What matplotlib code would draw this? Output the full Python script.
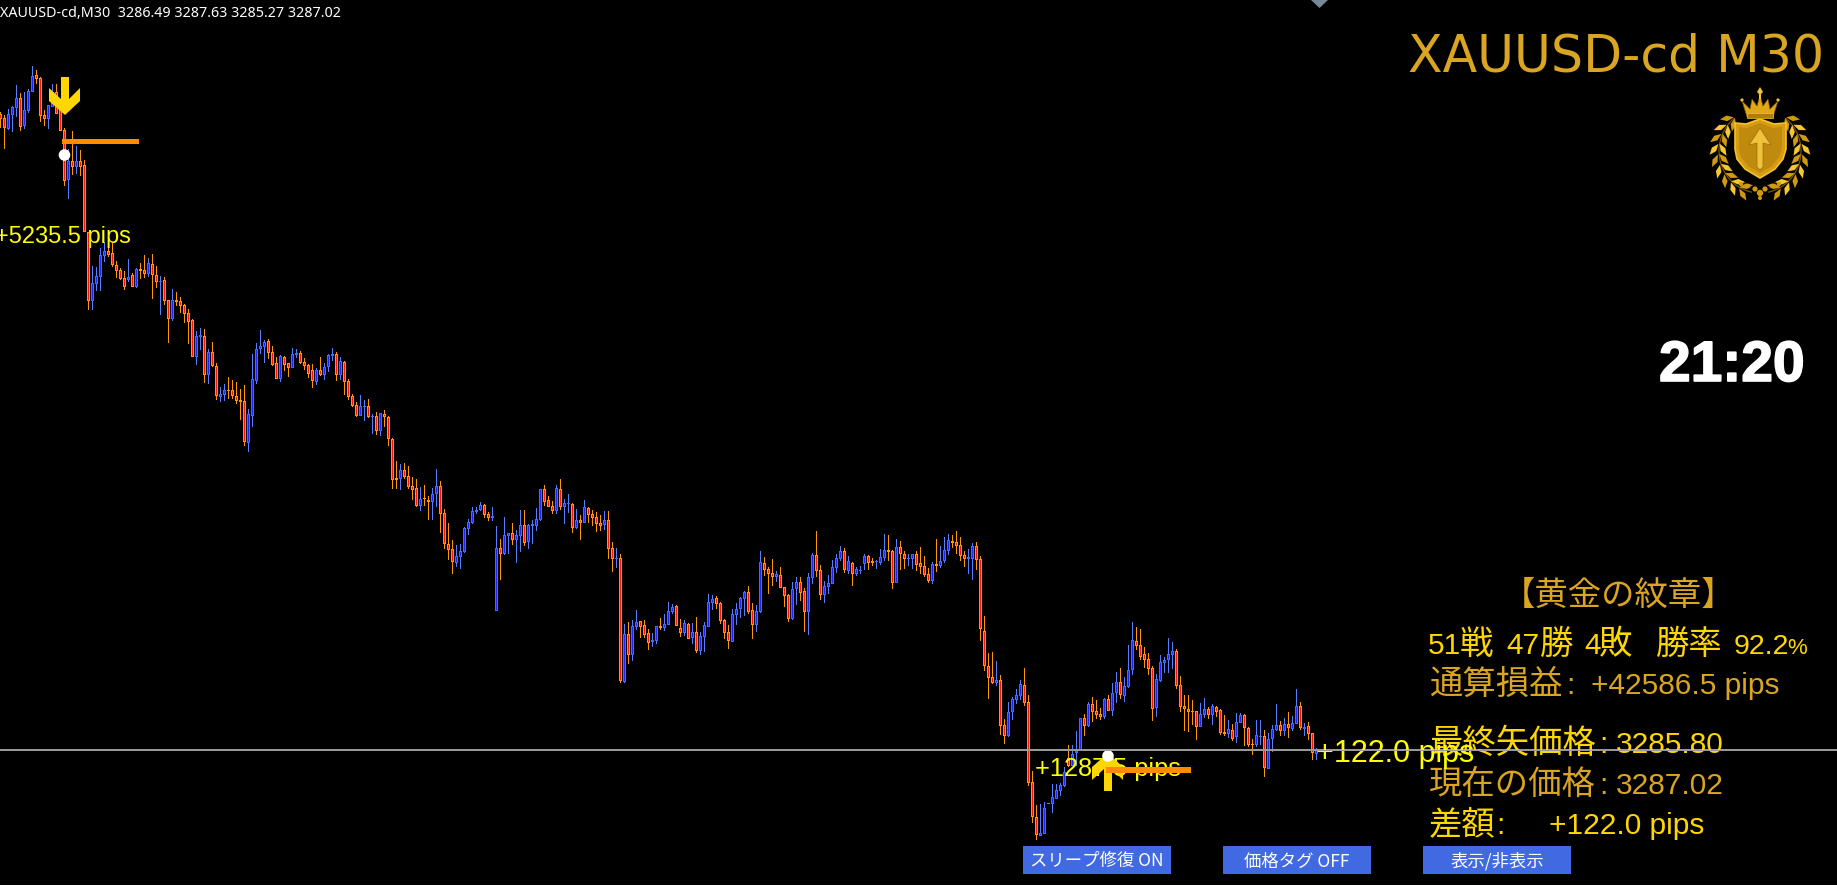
import math
import matplotlib
matplotlib.use("Agg")
import matplotlib.pyplot as plt
import matplotlib.patheffects as pe
from matplotlib.patches import Polygon, Circle, Rectangle

REF_PRICE = 3352.58
TICK = 0.0873
LAST_PRICE = 3287.02

# d = falling, u = rising, g = flat bar; one string per ten candles
candle_dir = "".join([
    "dduuuduuud", "dduudddudu", "ddduuuuddd", "ddududdudd", "uddudddddu",
    "ududduuddd", "dduuuuuddd", "udduuddddu", "duuududddd", "uudududddd",
    "uddddudduu", "dddduuuuuu", "udduuduudu", "uduuuudddu", "duudududdd",
    "duddududuu", "ddduuduuud", "dududuuuud", "ddduuuuddu", "uddduddduu",
    "dduudduuuu", "ududuuuddu", "uuddudduud", "ddduduuudd", "dduudddddu",
    "dduuuudddd", "uuguuuuduu", "ududdduduu", "duuudddddu", "uuuudddddd",
    "uududddudu", "uddduuduuu", "duduududdu",
])

body_top = [
    115,119,115,108,99,99,111,92,77,76,
    79,116,106,93,93,103,131,162,162,162,
    162,166,233,284,277,256,252,252,254,266,
    271,279,278,276,270,270,271,264,265,276,
    282,281,301,301,301,302,306,314,321,337,
    336,337,353,353,367,395,391,391,391,397,
    401,402,415,380,350,347,343,342,353,364,
    357,358,364,355,354,354,363,366,371,371,
    371,368,356,355,355,362,363,382,397,406,
    407,407,407,417,417,414,415,418,440,479,
    471,471,477,487,489,500,499,501,495,487,
    487,514,545,550,557,552,529,523,512,511,
    506,506,515,517,549,549,536,534,534,536,
    526,526,526,525,520,490,490,501,507,489,
    490,504,504,505,521,521,508,509,515,518,
    524,521,521,549,559,559,635,635,627,623,
    622,626,634,641,627,627,625,612,608,607,
    629,624,625,633,633,637,626,603,600,599,
    604,621,633,615,610,599,593,593,611,612,
    563,564,570,574,575,576,588,596,590,583,
    583,592,578,556,556,571,587,584,568,559,
    552,552,562,564,570,571,557,557,562,562,
    558,551,551,552,548,548,555,559,555,555,
    564,567,575,565,565,562,551,541,542,543,
    546,556,558,547,547,560,632,667,678,681,
    681,726,713,700,696,685,686,703,783,818,
    834,809,804,798,791,786,773,759,755,752,
    719,719,705,705,712,715,700,700,694,683,
    683,687,671,641,642,646,655,660,669,680,
    663,661,655,652,652,686,707,710,712,712,
    715,710,710,707,708,711,733,730,731,723,
    716,716,729,745,736,737,737,740,730,726,
    726,725,725,724,707,707,728,727,734,751,
]
body_bottom = [
    120,129,130,116,109,128,127,112,93,80,
    117,120,120,108,115,132,182,181,168,168,
    168,233,302,302,285,278,257,256,266,272,
    280,288,281,288,288,272,275,275,276,283,
    283,302,320,320,303,307,315,323,358,358,
    338,376,376,367,397,398,396,392,397,402,
    403,443,444,417,382,350,348,354,366,380,
    380,366,369,369,356,364,367,375,382,383,
    376,376,368,357,376,376,383,398,407,417,
    417,408,418,418,432,432,418,440,481,481,
    480,478,488,491,507,507,500,503,503,495,
    515,545,551,563,564,558,553,530,524,513,
    511,516,519,519,612,555,555,537,541,541,
    537,544,543,527,527,521,503,508,512,512,
    508,508,505,529,529,524,524,516,519,525,
    527,526,550,560,560,682,683,656,656,628,
    628,636,644,643,642,629,629,626,613,627,
    634,634,640,639,652,652,638,628,604,605,
    622,634,642,643,616,610,600,613,626,626,
    613,571,575,578,578,589,597,620,620,590,
    594,613,613,579,572,596,596,588,585,569,
    560,571,572,575,575,572,565,564,564,563,
    564,559,553,584,584,555,560,560,560,566,
    568,576,582,582,567,567,562,552,544,547,
    557,560,560,560,561,630,667,679,684,684,
    727,737,737,713,701,697,704,784,818,836,
    837,835,805,805,800,792,787,767,767,754,
    752,727,727,713,716,718,718,712,712,694,
    696,697,688,671,647,658,661,670,710,709,
    682,664,661,656,687,708,710,713,713,728,
    728,716,716,716,713,734,735,735,740,738,
    724,729,746,746,746,738,769,770,740,731,
    732,732,729,730,725,729,730,735,754,755,
]
wick_high = [
    113,116,110,107,86,94,93,90,67,71,
    78,111,106,85,85,100,129,150,132,147,
    151,161,233,267,268,249,243,238,244,262,
    269,272,260,274,269,264,256,259,255,267,
    277,278,301,290,293,298,305,310,320,332,
    329,330,350,343,364,388,385,378,381,383,
    390,386,410,355,344,331,341,340,347,358,
    356,357,364,349,350,352,359,365,365,369,
    358,364,355,349,353,358,362,380,395,403,
    396,401,400,415,413,414,411,417,439,462,
    465,464,467,478,480,488,486,497,489,470,
    482,510,524,541,546,545,528,520,508,508,
    503,505,513,508,527,540,518,534,524,531,
    511,511,525,521,509,490,486,497,502,486,
    480,500,495,504,510,516,501,508,511,513,
    516,512,512,543,549,555,625,623,621,611,
    622,621,630,634,627,619,615,603,605,606,
    620,621,624,624,618,633,623,595,596,597,
    603,620,626,610,604,598,592,587,604,606,
    552,558,568,560,572,568,588,595,583,578,
    578,589,574,554,532,566,582,576,561,555,
    547,549,557,563,568,567,555,556,559,561,
    550,535,536,551,540,542,552,555,555,552,
    548,557,569,563,540,547,538,535,536,532,
    538,552,550,544,543,557,617,654,653,662,
    676,720,703,698,690,681,669,696,772,806,
    805,803,804,785,785,784,768,746,746,732,
    719,715,703,698,701,709,699,696,684,673,
    669,678,646,623,628,630,648,654,667,675,
    656,658,639,643,650,677,696,696,701,712,
    704,699,708,705,707,710,716,721,725,714,
    714,715,728,740,721,721,731,734,726,705,
    722,719,713,717,690,703,724,723,734,749,
]
wick_low = [
    129,150,131,133,118,132,130,114,93,85,
    123,127,130,108,115,132,187,200,176,175,
    177,233,311,311,292,292,263,258,268,279,
    281,291,283,288,289,280,279,278,300,289,
    316,306,344,322,307,314,324,345,358,366,
    351,384,385,368,401,403,402,400,400,405,
    421,447,453,428,385,355,364,360,367,380,
    383,372,378,369,359,365,371,379,389,386,
    377,381,373,362,382,381,396,401,408,418,
    417,422,419,435,436,437,428,447,490,490,
    491,480,490,501,508,512,507,521,521,508,
    534,550,561,575,568,570,554,536,525,515,
    512,519,522,522,612,581,556,555,546,564,
    553,547,550,545,532,522,507,508,515,515,
    511,525,514,534,530,541,524,524,527,533,
    532,531,560,573,569,684,684,665,662,631,
    639,639,651,648,645,631,632,626,615,627,
    638,637,640,645,654,656,653,628,611,610,
    625,640,650,643,626,619,617,615,640,633,
    614,577,595,587,583,589,608,623,621,606,
    602,633,636,585,578,601,604,595,585,574,
    562,574,575,587,577,575,571,571,567,570,
    566,562,562,590,584,571,570,567,570,572,
    575,578,584,585,573,569,564,556,549,555,
    562,568,575,581,571,642,672,700,685,687,
    736,745,738,721,705,701,707,787,824,841,
    837,835,805,814,800,797,788,768,767,767,
    752,737,728,723,720,721,720,712,717,704,
    700,703,689,676,651,661,669,676,722,718,
    683,674,674,670,690,713,732,733,726,741,
    728,719,720,726,718,736,737,739,742,744,
    724,747,748,756,748,746,778,770,753,732,
    737,737,739,732,725,731,737,741,761,761,
]

pips_labels = ["+5235.5 pips", "+1287.5 pips", "+122.0 pips"]
header_text = "XAUUSD-cd,M30  3286.49 3287.63 3285.27 3287.02"

n = len(body_top)


def price(t):
    return REF_PRICE - t * TICK


BG = "#000000"
GOLD = "#DAA520"
YEL = "#FFD700"
CJK = ["Noto Sans CJK JP", "DejaVu Sans"]
LAT = "Liberation Sans"

W, H = 1837, 887
fig = plt.figure(figsize=(W / 100, H / 100), dpi=100, facecolor=BG)
ax = fig.add_axes([0, 0, 1, 1], facecolor=BG)
ax.set_xlim(-0.125, W / 4 - 0.125)
ax.set_ylim(price(H), price(0))
ax.axis("off")


def block(k, half, t0, t1, color, z):
    # a crisp rectangle between two tick levels, centred on candle k
    ax.add_patch(Rectangle((k - half, price(t1)), 2 * half, price(t0) - price(t1), facecolor=color,
                           edgecolor="none", antialiased=False, zorder=z))


for k in range(n):
    d = candle_dir[k]
    top, bot, hi, lo = body_top[k], body_bottom[k], wick_high[k], wick_low[k]
    if d == "g":
        block(k, 0.375, top, top + 1, "#00E000", 3)
        continue
    wick, edge, fill = ("#FF9900", "#FF9900", "#FF1400") if d == "d" else ("#5580FF", "#3F6BFF", "#1A24FF")
    block(k, 0.125, hi, max(lo, hi + 1), wick, 2)
    block(k, 0.375, top, max(bot, top + 1), edge, 3)
    if bot - top > 2:
        block(k, 0.125, top + 1, bot - 1, fill, 4)

# overlay in screen pixels for annotations
ov = fig.add_axes([0, 0, 1, 1], facecolor="none")
ov.set_xlim(0, W)
ov.set_ylim(H, 0)
ov.axis("off")

# frame strips and top marker
ov.add_patch(Rectangle((0, 0), W, 1, fc="white", ec="none", zorder=1))
ov.add_patch(Rectangle((0, H - 1), W, 1, fc="white", ec="none", zorder=1))
ov.add_patch(Polygon([(1311, 1), (1328, 1), (1319.5, 9)], fc="#778899", ec="none", zorder=1))


def arrow_pts(x, y0, direction):
    # y0 = tail end; direction +1 points downward
    s = direction
    return [(x - 4, y0), (x + 4, y0), (x + 4, y0 + 22 * s), (x + 15, y0 + 11 * s), (x + 15, y0 + 24 * s),
            (x, y0 + 38 * s), (x - 16, y0 + 24 * s), (x - 16, y0 + 11 * s), (x - 4, y0 + 22 * s)]


ov.add_patch(Polygon(arrow_pts(65, 78, 1), fc=YEL, ec="none", zorder=6))
ov.add_patch(Rectangle((62, 139.5), 77, 5.5, fc="#FF8C00", ec="none", zorder=7))
ov.add_patch(Circle((64.5, 156), 5.8, fc="white", ec="none", zorder=8))

# pips labels on chart
ov.text(-5, 243, pips_labels[0], color="#FFFF00", fontsize=17, family=LAT, va="baseline", zorder=5)
ov.text(1035, 776, pips_labels[1], color="#FFFF00", fontsize=18.3, family=LAT, va="baseline", zorder=5)
ov.add_patch(Polygon(arrow_pts(1108, 792, -1), fc=YEL, ec="none", zorder=6))
ov.add_patch(Rectangle((1106, 768.5), 85, 5.5, fc="#FF8C00", ec="none", zorder=7))
ov.add_patch(Circle((1108, 757), 5.8, fc="white", ec="none", zorder=8))
ov.text(1316, 762, pips_labels[2], color="#FFFF00", fontsize=22, family=LAT, va="baseline", zorder=5)

# header and title
ov.text(0, 17, header_text, color="white", fontsize=10.3, family="Noto Sans", va="baseline", zorder=5)
ov.text(1824, 72, "XAUUSD-cd M30", color=GOLD, fontsize=36.4, family="DejaVu Sans", ha="right",
        va="baseline", zorder=5)
ov.text(1805, 382, "21:20", color="white", fontsize=41, family=LAT, fontweight="bold", ha="right",
        va="baseline", zorder=5, path_effects=[pe.withStroke(linewidth=1.2, foreground="white")])


# info panel
def put(pieces, y, color):
    for txt, x, size in pieces:
        if size is None:
            ov.text(x, y, txt, color=color, fontsize=24, family=CJK, va="baseline", zorder=4)
        else:
            ov.text(x, y, txt, color=color, fontsize=size, family=LAT, va="baseline", zorder=4)


ov.text(1619, 605, "【黄金の紋章】", color=GOLD, fontsize=24, family=CJK, ha="center", va="baseline", zorder=4)
put([("51", 1428, 21.5), ("戦", 1460, None), ("47", 1506, 21.5), ("勝", 1540, None), ("4", 1584, 21.5),
     ("敗", 1599, None), ("勝率", 1656, None), ("92.2", 1734, 20.5), ("%", 1787, 16)], 654, YEL)
put([("通算損益", 1429, None), (":", 1566, 21.5), ("+42586.5 pips", 1591, 21.5)], 694, GOLD)
put([("最終矢価格", 1429, None), (":", 1599, 21.5), ("3285.80", 1616, 21.5)], 753, YEL)
put([("現在の価格", 1429, None), (":", 1599, 21.5), ("3287.02", 1616, 21.5)], 794, GOLD)
put([("差額", 1429, None), (":", 1496, 21.5), ("+122.0 pips", 1549, 21.5)], 834, YEL)

# current price line
ax.add_patch(Rectangle((-1, price((REF_PRICE - LAST_PRICE) / TICK + 0.5)), 470, TICK, fc="#999999",
                       ec="none", antialiased=False, zorder=5))
ov.add_patch(Rectangle((0, 750.5), W, 1, fc="#999999", ec="none", antialiased=False, zorder=9))

# buttons
for (x0, label) in [(1023, "スリープ修復 ON"), (1223, "価格タグ OFF"), (1423, "表示/非表示")]:
    ov.add_patch(Rectangle((x0, 847), 148, 28, fc="#4169E1", ec="none", zorder=4))
    ov.text(x0 + 74, 866.5, label, color="white", fontsize=12.5, family=CJK, ha="center", va="baseline", zorder=5)

# emblem
CX, CY = 1760, 152
DARK, MID, LIGHT = "#7A5206", "#D09A10", "#F5C832"
for side in (-1, 1):
    ts = [math.radians(a) for a in range(12, 142, 4)]
    ov.plot([CX + side * 41 * math.sin(t) for t in ts], [CY + 42 * math.cos(t) for t in ts],
            color=DARK, lw=0.9, zorder=4)
    for i, deg in enumerate(range(22, 148, 14)):
        t = math.radians(deg)
        for off, tilt in ((5, 0.65), (-4, -0.55)):
            cx = CX + side * (41 + off) * math.sin(t)
            cy = CY + (42 + off) * math.cos(t)
            a = t + tilt
            dx, dy = side * math.cos(a), -math.sin(a)
            nx, ny = -dy, dx
            L, Wd = 7.0, 2.8
            ov.add_patch(Polygon([(cx - dx * L, cy - dy * L), (cx + nx * Wd, cy + ny * Wd),
                                  (cx + dx * L, cy + dy * L), (cx - nx * Wd, cy - ny * Wd)],
                                 fc=LIGHT if i % 2 else MID, ec="none", zorder=4))
# bottom ornament
for dx, dy, r in [(0, 194, 3.2), (-5, 190, 2.6), (5, 190, 2.6), (0, 199, 2.0), (-12, 187, 2.4), (12, 187, 2.4),
                  (-19, 185, 2.2), (19, 185, 2.2)]:
    ov.add_patch(Circle((CX + dx, dy), r, fc=MID, ec="none", zorder=5))
# shield
shield = [(1735, 124), (1746, 125), (1760, 120), (1774, 125), (1786, 124), (1786, 150), (1783, 160),
          (1775, 170), (1760, 179), (1745, 170), (1737, 160), (1735, 150)]
ov.add_patch(Polygon(shield, fc="#D79C12", ec="#F2C230", lw=1.2, zorder=5))
inner = [(1739, 128), (1747, 129), (1760, 124), (1773, 129), (1782, 128), (1782, 150), (1779, 158),
         (1772, 167), (1760, 174), (1748, 167), (1741, 158), (1739, 150)]
ov.add_patch(Polygon(inner, fc="#C08A0E", ec="none", zorder=5))
ov.add_patch(Polygon([(1760, 129), (1749, 146), (1757, 144), (1757, 168), (1760, 171), (1763, 168),
                      (1763, 144), (1771, 146)], fc="#F0C23A", ec="#9A6E08", lw=0.5, zorder=6))
# crown
crown = [(1742, 102), (1750, 110), (1752, 100), (1757, 107), (1760, 96), (1763, 107), (1768, 100),
         (1770, 110), (1778, 102), (1773, 118), (1747, 118)]
ov.add_patch(Polygon(crown, fc="#E0A818", ec=DARK, lw=0.5, zorder=6))
ov.add_patch(Rectangle((1747, 114), 26, 5, fc="#B27D0A", ec="#F2C230", lw=0.5, zorder=6))
ov.add_patch(Polygon([(1760, 88), (1763, 93), (1761, 95), (1761, 100), (1759, 100), (1759, 95), (1757, 93)],
                     fc="#F2C230", ec="none", zorder=6))
for x, y in [(1742, 101), (1778, 101)]:
    ov.add_patch(Circle((x, y), 1.6, fc="#F2C230", ec="none", zorder=6))

fig.savefig("out.png", dpi=100, facecolor=BG)
